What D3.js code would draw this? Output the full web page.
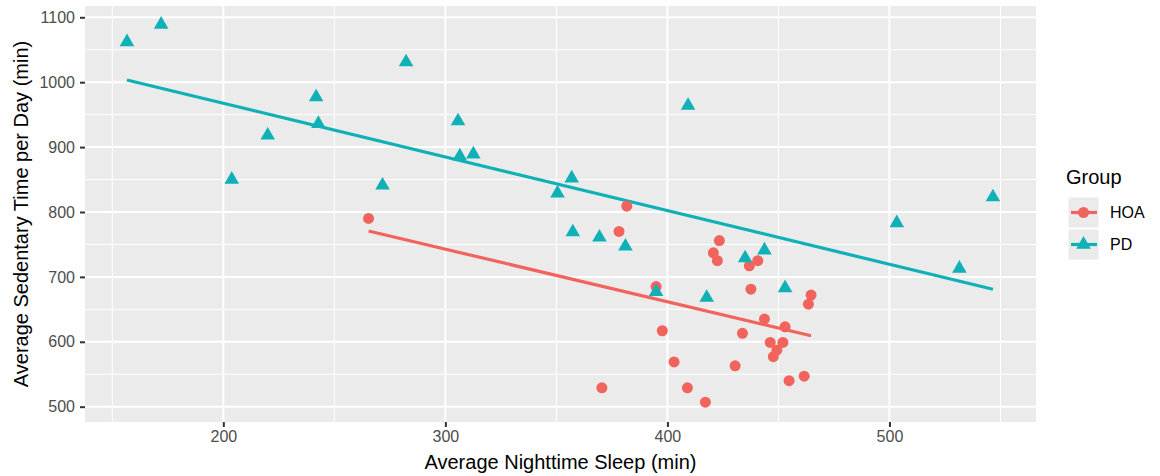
<!DOCTYPE html>
<html>
<head>
<meta charset="utf-8">
<script src="https://d3js.org/d3.v7.min.js"></script>
<style>
  body { margin: 0; background: #ffffff; }
  text { font-family: "Liberation Sans", Arial, Helvetica, sans-serif; }
</style>
</head>
<body>
<div id="my_dataviz"></div>

<script>

// ---- data ----
var groups = ["HOA", "PD"];

var hoaSleep = [265.4, 381.7, 378.2, 394.9, 397.7, 403, 370.5, 409, 417.1, 423.4, 420.7, 422.5, 436.9, 440.7,
                437.6, 464.7, 463.5, 443.7, 453, 433.8, 446.3, 452, 449.3, 447.7, 430.5, 454.8, 461.6];
var hoaSedentary = [790, 809, 770, 685, 617, 569, 529, 529, 507, 756, 737, 725, 717, 725,
                    681, 672, 658, 635, 623, 613, 599, 599, 587, 577, 563, 540, 547];

var pdSleep = [156.6, 172, 203.8, 220, 241.8, 242.8, 271.7, 282.3, 305.7, 306.5, 312.6, 350.5, 356.9,
               357.4, 369.4, 381.1, 394.9, 409.3, 417.7, 435, 443.7, 453, 503.3, 531.5, 546.6];
var pdSedentary = [1062, 1089, 850, 918, 977, 936, 841, 1031, 940, 886, 889, 829, 852,
                   769, 761, 747, 677, 964, 668, 729, 741, 683, 783, 713, 823];

// fitted lines (lm), end points as seen in the picture
var hoaFit = [[265.4, 770.7], [464.7, 609.4]];
var pdFit = [[156.6, 1003.4], [546.6, 680.9]];

var xTicks = [200, 300, 400, 500];
var xMinor = [150, 250, 350, 450, 550];
var yTicks = [500, 600, 700, 800, 900, 1000, 1100];
var yMinor = [550, 650, 750, 850, 950, 1050];

var xTitle = "Average Nighttime Sleep (min)";
var yTitle = "Average Sedentary Time per Day (min)";
var legendTitle = "Group";

// ---- layout ----
var W = 1160, H = 476;
var panel = {left: 85, top: 6, right: 1036, bottom: 422};

var color = d3.scaleOrdinal().domain(groups).range(["#F1645D", "#0FB1B6"]);

var svg = d3.select("#my_dataviz")
  .append("svg")
    .attr("width", W)
    .attr("height", H);

var x = d3.scaleLinear()
  .domain([137.7, 566])
  .range([panel.left, panel.right]);

var y = d3.scaleLinear()
  .domain([476.4, 1117.4])
  .range([panel.bottom, panel.top]);

// panel background
svg.append("rect")
  .attr("x", panel.left)
  .attr("y", panel.top)
  .attr("width", panel.right - panel.left)
  .attr("height", panel.bottom - panel.top)
  .attr("fill", "#ebebeb");

// grid lines
var grid = svg.append("g");
grid.selectAll(".xminor").data(xMinor).enter().append("line")
  .attr("x1", d => x(d)).attr("x2", d => x(d))
  .attr("y1", panel.top).attr("y2", panel.bottom)
  .attr("stroke", "#ffffff").attr("stroke-width", 1);
grid.selectAll(".yminor").data(yMinor).enter().append("line")
  .attr("y1", d => y(d)).attr("y2", d => y(d))
  .attr("x1", panel.left).attr("x2", panel.right)
  .attr("stroke", "#ffffff").attr("stroke-width", 1);
grid.selectAll(".xmajor").data(xTicks).enter().append("line")
  .attr("x1", d => x(d)).attr("x2", d => x(d))
  .attr("y1", panel.top).attr("y2", panel.bottom)
  .attr("stroke", "#ffffff").attr("stroke-width", 2);
grid.selectAll(".ymajor").data(yTicks).enter().append("line")
  .attr("y1", d => y(d)).attr("y2", d => y(d))
  .attr("x1", panel.left).attr("x2", panel.right)
  .attr("stroke", "#ffffff").attr("stroke-width", 2);

// axes
var xAxis = svg.append("g")
  .attr("transform", "translate(0," + panel.bottom + ")")
  .call(d3.axisBottom(x).tickValues(xTicks).tickFormat(d3.format("d")).tickSize(5).tickPadding(4));
var yAxis = svg.append("g")
  .attr("transform", "translate(" + panel.left + ",0)")
  .call(d3.axisLeft(y).tickValues(yTicks).tickFormat(d3.format("d")).tickSize(5).tickPadding(5));

[xAxis, yAxis].forEach(function (g) {
  g.select(".domain").remove();
  g.selectAll(".tick line").attr("stroke", "#333333").attr("stroke-width", 2);
  g.selectAll(".tick text")
    .attr("fill", "#4d4d4d")
    .style("font-size", "16px")
    .style("font-family", "'Liberation Sans', Arial, Helvetica, sans-serif");
});

// axis titles
svg.append("text")
  .attr("x", (panel.left + panel.right) / 2)
  .attr("y", 469)
  .attr("text-anchor", "middle")
  .style("font-size", "20px")
  .attr("fill", "#000")
  .text(xTitle);

svg.append("text")
  .attr("transform", "translate(28," + ((panel.top + panel.bottom) / 2) + ") rotate(-90)")
  .attr("text-anchor", "middle")
  .style("font-size", "20px")
  .attr("fill", "#000")
  .text(yTitle);

// fitted lines
var line = d3.line().x(d => x(d[0])).y(d => y(d[1]));
svg.append("path").datum(hoaFit)
  .attr("d", line).attr("fill", "none")
  .attr("stroke", color("HOA")).attr("stroke-width", 3.2);
svg.append("path").datum(pdFit)
  .attr("d", line).attr("fill", "none")
  .attr("stroke", color("PD")).attr("stroke-width", 3.2);

// points
var hoaData = hoaSleep.map((v, i) => ({x: v, y: hoaSedentary[i]}));
var pdData = pdSleep.map((v, i) => ({x: v, y: pdSedentary[i]}));

var tri = d3.symbol().type(d3.symbolTriangle).size(92);

svg.append("g").selectAll("circle")
  .data(hoaData)
  .enter()
  .append("circle")
    .attr("cx", d => x(d.x))
    .attr("cy", d => y(d.y))
    .attr("r", 5.5)
    .attr("fill", color("HOA"));

svg.append("g").selectAll("path")
  .data(pdData)
  .enter()
  .append("path")
    .attr("d", tri)
    .attr("transform", d => "translate(" + x(d.x) + "," + y(d.y) + ")")
    .attr("fill", color("PD"));

// legend
var legend = svg.append("g");
legend.append("text")
  .attr("x", 1066)
  .attr("y", 184)
  .style("font-size", "20px")
  .attr("fill", "#000")
  .text(legendTitle);

var keys = legend.selectAll(".key")
  .data(groups)
  .enter()
  .append("g")
    .attr("transform", (d, i) => "translate(1068," + (197 + i * 32) + ")");

keys.append("rect")
  .attr("width", 31).attr("height", 31)
  .attr("fill", "#ebebeb")
  .attr("stroke", "#ffffff").attr("stroke-width", 1);
keys.append("line")
  .attr("x1", 3).attr("x2", 29)
  .attr("y1", 15.5).attr("y2", 15.5)
  .attr("stroke", d => color(d)).attr("stroke-width", 3.2);
keys.filter(d => d === "HOA").append("circle")
  .attr("cx", 15.5).attr("cy", 15.5).attr("r", 5.5)
  .attr("fill", color("HOA"));
keys.filter(d => d === "PD").append("path")
  .attr("d", tri)
  .attr("transform", "translate(15.5,15.5)")
  .attr("fill", color("PD"));
keys.append("text")
  .attr("x", 42)
  .attr("y", 15.5)
  .attr("dy", "0.35em")
  .style("font-size", "16px")
  .attr("fill", "#000")
  .text(d => d);

</script>
</body>
</html>
